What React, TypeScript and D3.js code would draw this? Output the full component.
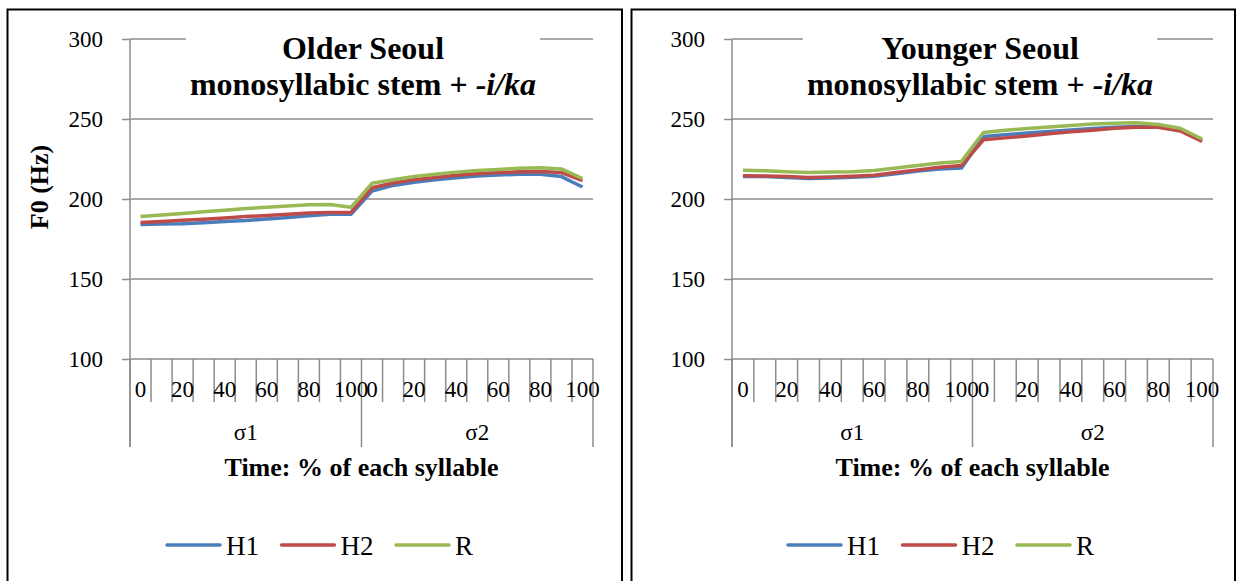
import { useEffect, useRef } from 'react';
import * as d3 from 'd3';

// time points within each syllable (% of syllable)
const pcts = [0, 10, 20, 30, 40, 50, 60, 70, 80, 90, 100];
const syllables = ['σ1', 'σ2'];
const seriesNames = ['H1', 'H2', 'R'];
const seriesColors = ['#4A7EBB', '#BE4B48', '#98B954'];
const yTicks = [100, 150, 200, 250, 300];

// Older Seoul, F0 in Hz (σ1 then σ2)
const olderH1 = [184, 184.3, 184.6, 185.2, 186, 186.6, 187.5, 188.5, 189.5, 190.5, 190.5,
  205, 208.5, 210.5, 212, 213.3, 214.3, 215, 215.5, 215.5, 214, 207.5];
const olderH2 = [185.3, 186, 186.7, 187.4, 188.2, 189, 189.7, 190.4, 191.2, 191.6, 191.6,
  207, 210, 212, 213.5, 214.8, 215.8, 216.5, 217, 217.2, 216.5, 211.5];
const olderR = [189, 190, 191, 192, 193, 194, 194.8, 195.6, 196.4, 196.6, 194.8,
  209.8, 212, 214, 215.5, 216.8, 217.8, 218.5, 219.2, 219.5, 218.8, 212.8];

// Younger Seoul
const youngerH1 = [214, 214, 213.5, 212.8, 213.2, 213.6, 214.2, 215.8, 217.5, 218.8, 219.4,
  239, 240.2, 241.2, 242.2, 243.2, 244, 244.8, 245.3, 245, 243, 236.5];
const youngerH2 = [214.6, 214.4, 214, 213.4, 213.8, 214.2, 214.8, 216.5, 218.2, 219.8, 221,
  237, 238.2, 239.4, 240.8, 242, 243, 244.2, 244.8, 244.8, 242.5, 236];
const youngerR = [218, 217.7, 217.1, 216.6, 216.8, 217.1, 217.8, 219.4, 221, 222.5, 223.5,
  241.6, 242.9, 244, 245, 245.9, 246.8, 247.4, 247.6, 246.6, 244.2, 237.5];

const FONT = "'Liberation Serif', 'Times New Roman', serif";
const GRID = '#8c8c8c';

interface IPanel {
  boxL: number;
  boxR: number;
  x0: number;
  x1: number;
  titleX: number;
  title: string;
  yLabel: boolean;
  legendX: number;
  data: number[][];
}

const panels: IPanel[] = [
  { boxL: 7.5, boxR: 622, x0: 130, x1: 593, titleX: 363, title: 'Older Seoul', yLabel: true, legendX: 167,
    data: [olderH1, olderH2, olderR] },
  { boxL: 631.5, boxR: 1235, x0: 732, x1: 1213, titleX: 980, title: 'Younger Seoul', yLabel: false, legendX: 788,
    data: [youngerH1, youngerH2, youngerR] },
];

function drawPanel(svg: d3.Selection<SVGSVGElement, unknown, null, undefined>, p: IPanel) {
  const g = svg.append('g');
  const n = pcts.length * syllables.length;

  g.append('rect')
    .attr('x', p.boxL).attr('y', 9.5)
    .attr('width', p.boxR - p.boxL).attr('height', 600)
    .attr('fill', 'none').attr('stroke', '#000').attr('stroke-width', 2);

  const x = d3.scaleBand<number>().domain(d3.range(n)).range([p.x0, p.x1]);
  const bw = x.bandwidth();
  const y = d3.scaleLinear().domain([100, 300]).range([359, 39]);

  // gridlines
  g.append('g').selectAll('line')
    .data(yTicks.filter(v => v > 100))
    .join('line')
    .attr('x1', p.x0).attr('x2', p.x1)
    .attr('y1', d => y(d)).attr('y2', d => y(d))
    .attr('stroke', GRID).attr('stroke-width', 1.5);

  // y axis
  const ya = g.append('g')
    .attr('transform', `translate(${p.x0},0)`)
    .call(d3.axisLeft(y).tickValues(yTicks).tickSize(8).tickPadding(19));
  ya.attr('font-family', null).attr('font-size', null);
  ya.select('.domain').remove();
  ya.selectAll('line').attr('stroke', GRID).attr('stroke-width', 1.5);
  ya.selectAll('text').attr('font-size', 23).attr('fill', '#000');

  g.append('line')
    .attr('x1', p.x0).attr('x2', p.x0)
    .attr('y1', y(300)).attr('y2', 447)
    .attr('stroke', GRID).attr('stroke-width', 1.5);

  // category axis
  g.append('line')
    .attr('x1', p.x0).attr('x2', p.x1)
    .attr('y1', y(100)).attr('y2', y(100))
    .attr('stroke', GRID).attr('stroke-width', 1.5);

  g.append('g').selectAll('line')
    .data(d3.range(n + 1))
    .join('line')
    .attr('x1', d => p.x0 + d * bw).attr('x2', d => p.x0 + d * bw)
    .attr('y1', y(100))
    .attr('y2', d => y(100) + (d % pcts.length === 0 ? 88 : 43))
    .attr('stroke', GRID).attr('stroke-width', 1.5);

  const cats = syllables.flatMap(() => pcts);
  g.append('g').selectAll('text')
    .data(cats.map((v, i) => ({ v, i })).filter(d => d.v % 20 === 0))
    .join('text')
    .attr('x', d => (x(d.i) as number) + bw / 2)
    .attr('y', 397)
    .attr('text-anchor', 'middle')
    .attr('font-size', 23)
    .text(d => d.v);

  g.append('g').selectAll('text')
    .data(syllables)
    .join('text')
    .attr('x', (d, i) => p.x0 + (i + 0.5) * pcts.length * bw)
    .attr('y', 440)
    .attr('text-anchor', 'middle')
    .attr('font-size', 23)
    .text(d => d);

  g.append('text')
    .attr('x', (p.x0 + p.x1) / 2).attr('y', 476)
    .attr('text-anchor', 'middle')
    .attr('font-size', 26).attr('font-weight', 'bold')
    .text('Time: % of each syllable');

  if (p.yLabel) {
    g.append('text')
      .attr('transform', 'translate(48,187) rotate(-90)')
      .attr('text-anchor', 'middle')
      .attr('font-size', 26).attr('font-weight', 'bold')
      .text('F0 (Hz)');
  }

  // series
  const line = d3.line<number>()
    .x((d, i) => (x(i) as number) + bw / 2)
    .y(d => y(d));
  p.data.forEach((s, k) => {
    g.append('path')
      .datum(s)
      .attr('fill', 'none')
      .attr('stroke', seriesColors[k])
      .attr('stroke-width', 3.5)
      .attr('stroke-linejoin', 'round')
      .attr('d', line);
  });

  // title with white box over the 300 gridline
  const tg = g.append('g').attr('font-weight', 'bold').attr('font-size', 32);
  const bg = tg.append('rect').attr('fill', '#fff');
  tg.append('text')
    .attr('x', p.titleX).attr('y', 59)
    .attr('text-anchor', 'middle')
    .text(p.title);
  const t2 = tg.append('text')
    .attr('x', p.titleX).attr('y', 95)
    .attr('text-anchor', 'middle');
  t2.append('tspan').text('monosyllabic stem + ');
  t2.append('tspan').attr('font-style', 'italic').text('-i/ka');

  // legend
  const lg = g.append('g').selectAll('g')
    .data(seriesNames)
    .join('g')
    .attr('transform', (d, i) => `translate(${p.legendX + i * 114.5},0)`);
  lg.append('line')
    .attr('x1', 0).attr('x2', 53)
    .attr('y1', 545).attr('y2', 545)
    .attr('stroke', (d, i) => seriesColors[i])
    .attr('stroke-width', 3.5)
    .attr('stroke-linecap', 'round');
  lg.append('text')
    .attr('x', 59).attr('y', 555)
    .attr('font-size', 27)
    .text(d => d);

  g.selectAll('text').attr('font-family', FONT);
  const bb = (tg.node() as SVGGElement).getBBox();
  bg.attr('x', bb.x - 4).attr('y', bb.y - 2)
    .attr('width', bb.width + 8).attr('height', bb.height + 4);
}

export default function App() {
  const svgRef = useRef<SVGSVGElement>(null);

  useEffect(() => {
    const svg = d3.select(svgRef.current as SVGSVGElement);
    svg.selectAll('*').remove();
    panels.forEach(p => drawPanel(svg, p));
  }, []);

  return (
    <svg ref={svgRef} width={1241} height={581} fontFamily={FONT}
      style={{ position: 'absolute', left: 0, top: 0, background: '#fff' }} />
  );
}
